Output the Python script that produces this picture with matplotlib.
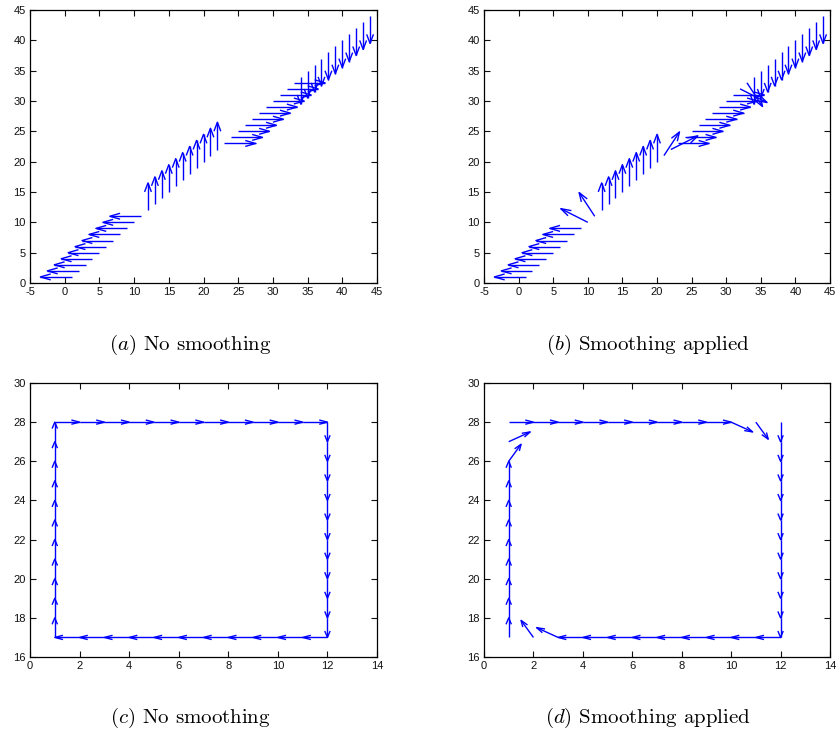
import numpy as np
import matplotlib
matplotlib.use("Agg")
import matplotlib.pyplot as plt
from matplotlib.collections import LineCollection

# ---- panel (a): no smoothing, diagonal track ----
a_x = [1, 2, 3, 4, 5, 6, 7, 8, 9, 10, 11,
       12, 13, 14, 15, 16, 17, 18, 19, 20, 21, 22,
       23, 24, 25, 26, 27, 28, 29, 30, 31, 32, 33,
       34, 35, 36, 37, 38, 39, 40, 41, 42, 43, 44]
a_y = a_x
a_u = [-4.5] * 11 + [0] * 11 + [4.5] * 11 + [0] * 11
a_v = [0] * 11 + [4.5] * 11 + [0] * 11 + [-4.5] * 11

# ---- panel (b): smoothing applied, diagonal track ----
b_x = a_x
b_y = a_y
b_u = ([-4.5] * 9 + [-3.9, -2.25] + [0] * 9 + [2.25, 3.9]
       + [4.5] * 9 + [3.9, 2.25] + [0] * 11)
b_v = ([0] * 9 + [2.25, 3.9] + [4.5] * 9 + [3.9, 2.25]
       + [0] * 9 + [-2.25, -3.9] + [-4.5] * 11)

# ---- panel (c): no smoothing, rectangular track ----
c_x = ([1] * 11 + [1, 2, 3, 4, 5, 6, 7, 8, 9, 10, 11]
       + [12] * 11 + [12, 11, 10, 9, 8, 7, 6, 5, 4, 3, 2])
c_y = ([17, 18, 19, 20, 21, 22, 23, 24, 25, 26, 27] + [28] * 11
       + [28, 27, 26, 25, 24, 23, 22, 21, 20, 19, 18] + [17] * 11)
c_u = [0] * 11 + [1.0] * 11 + [0] * 11 + [-1.0] * 11
c_v = [1.0] * 11 + [0] * 11 + [-1.0] * 11 + [0] * 11

# ---- panel (d): smoothing applied, rectangular track ----
d_x = c_x
d_y = c_y
d_u = ([0] * 9 + [0.5, 0.87] + [1.0] * 9 + [0.87, 0.5]
       + [0] * 11 + [-1.0] * 9 + [-0.87, -0.5])
d_v = ([1.0] * 9 + [0.87, 0.5] + [0] * 9 + [-0.5, -0.87]
       + [-1.0] * 11 + [0] * 9 + [0.5, 0.87])

captions = [r"$(a)$ No smoothing", r"$(b)$ Smoothing applied",
            r"$(c)$ No smoothing", r"$(d)$ Smoothing applied"]

plt.rcParams['axes.unicode_minus'] = False
plt.rcParams['mathtext.fontset'] = 'cm'

BLUE = "#0000ff"


def matlab_quiver(ax, x, y, u, v, color=BLUE, lw=1.0):
    """Open V-headed arrows, same geometry as MATLAB's quiver (alpha=beta=0.33)."""
    x, y, u, v = (np.asarray(t, dtype=float) for t in (x, y, u, v))
    alpha, beta = 0.33, 0.33
    tx, ty = x + u, y + v
    h1x = tx - alpha * (u + beta * v)
    h1y = ty - alpha * (v - beta * u)
    h2x = tx - alpha * (u - beta * v)
    h2y = ty - alpha * (v + beta * u)
    segs = []
    for i in range(len(x)):
        segs.append([(x[i], y[i]), (tx[i], ty[i])])
        segs.append([(h1x[i], h1y[i]), (tx[i], ty[i]), (h2x[i], h2y[i])])
    ax.add_collection(LineCollection(segs, colors=color, linewidths=lw))


def style_axes(ax, xlim, ylim, xticks, yticks):
    ax.set_xlim(*xlim)
    ax.set_ylim(*ylim)
    ax.set_xticks(xticks)
    ax.set_yticks(yticks)
    ax.tick_params(direction='in', top=True, right=True, length=4,
                   width=0.8, labelsize=8, pad=3, colors='#111111')
    for lab in ax.get_xticklabels() + ax.get_yticklabels():
        lab.set_family('Liberation Sans')
    for sp in ax.spines.values():
        sp.set_linewidth(0.9)


fig = plt.figure(figsize=(8.36, 7.32), dpi=100)

W, H = 836, 732
boxes = [(30, 10, 377, 283), (484, 10, 830, 283),
         (30, 383, 377, 657), (484, 383, 830, 657)]
data = [(a_x, a_y, a_u, a_v), (b_x, b_y, b_u, b_v),
        (c_x, c_y, c_u, c_v), (d_x, d_y, d_u, d_v)]

for i, ((l, t, r, b), (x, y, u, v)) in enumerate(zip(boxes, data)):
    ax = fig.add_axes([l / W, 1 - b / H, (r - l) / W, (b - t) / H])
    matlab_quiver(ax, x, y, u, v)
    if i < 2:
        style_axes(ax, (-5, 45), (0, 45), range(-5, 46, 5), range(0, 46, 5))
    else:
        style_axes(ax, (0, 14), (16, 30), range(0, 15, 2), range(16, 31, 2))

cap_pos = [(190, 350), (648, 350), (190, 723), (648, 723)]
for (cx, cy), txt in zip(cap_pos, captions):
    fig.text(cx / W, 1 - cy / H, txt, ha='center', va='baseline',
             fontsize=15, family='cmr10')

fig.savefig("out.png", dpi=100)
